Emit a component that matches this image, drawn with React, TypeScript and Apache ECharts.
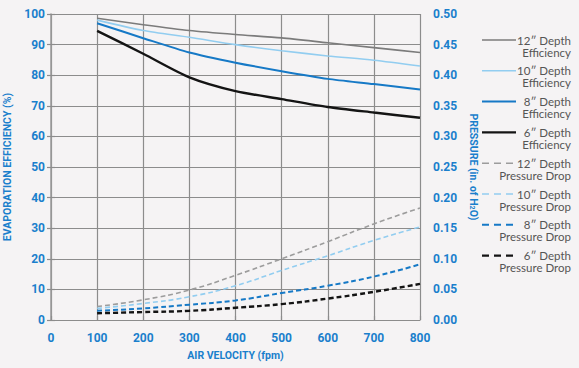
import React, { useEffect, useRef } from "react";
import * as echarts from "echarts";

const velocities = [100, 200, 300, 400, 500, 600, 700, 800];

const eff12 = [98.6, 96.5, 94.6, 93.3, 92.2, 90.6, 89.0, 87.4];
const eff10 = [98.0, 94.6, 92.4, 90.0, 88.0, 86.3, 84.9, 83.0];
const eff8 = [97.0, 92.1, 87.4, 84.1, 81.3, 78.8, 77.1, 75.3];
const eff6 = [94.5, 87.0, 79.3, 74.8, 72.2, 69.6, 67.8, 66.1];

const pd12 = [0.022, 0.033, 0.049, 0.073, 0.1, 0.128, 0.157, 0.183];
const pd10 = [0.019, 0.027, 0.038, 0.056, 0.081, 0.105, 0.13, 0.152];
const pd8 = [0.015, 0.019, 0.025, 0.032, 0.044, 0.056, 0.071, 0.091];
const pd6 = [0.011, 0.013, 0.015, 0.02, 0.026, 0.035, 0.046, 0.059];

const legendLabels = [
  ["12\u2033 Depth", "Efficiency"],
  ["10\u2033 Depth", "Efficiency"],
  ["8\u2033 Depth", "Efficiency"],
  ["6\u2033 Depth", "Efficiency"],
  ["12\u2033 Depth", "Pressure Drop"],
  ["10\u2033 Depth", "Pressure Drop"],
  ["8\u2033 Depth", "Pressure Drop"],
  ["6\u2033 Depth", "Pressure Drop"],
];

const colors = ["#7b7b7b", "#92cdf0", "#1679c6", "#141414", "#9c9c9c", "#92cdf0", "#1679c6", "#141414"];
const widths = [1.6, 1.6, 2, 2.4, 1.6, 1.6, 2, 2.4];

const BLUE = "#1a7fcc";
const GRID = "#8c8c8c";

export default function App() {
  const ref = useRef<HTMLDivElement>(null);
  useEffect(() => {
    if (!ref.current) return;
    const chart = echarts.init(ref.current, null, { renderer: "svg" });
    const effSeries = [eff12, eff10, eff8, eff6];
    const pdSeries = [pd12, pd10, pd8, pd6];
    const series: any[] = [];
    effSeries.forEach((d, i) => {
      series.push({
        type: "line",
        name: legendLabels[i].join(" "),
        yAxisIndex: 0,
        data: velocities.map((v, j) => [v, d[j]]),
        showSymbol: false,
        smooth: 0.25,
        lineStyle: { color: colors[i], width: widths[i] },
      });
    });
    pdSeries.forEach((d, i) => {
      series.push({
        type: "line",
        name: legendLabels[i + 4].join(" "),
        yAxisIndex: 1,
        data: velocities.map((v, j) => [v, d[j]]),
        showSymbol: false,
        smooth: true,
        lineStyle: { color: colors[i + 4], width: widths[i + 4], type: [5, 3] },
      });
    });

    const graphics: any[] = [];
    legendLabels.forEach((lab, i) => {
      const y = 40 + i * 30.8;
      const dashed = i >= 4;
      graphics.push({
        type: "line",
        shape: { x1: 482, y1: y, x2: 516, y2: y },
        style: {
          stroke: colors[i],
          lineWidth: widths[i],
          lineDash: dashed ? [7, 5] : null,
        },
      });
      graphics.push({
        type: "text",
        x: 571,
        y: y,
        style: {
          text: lab[0],
          align: "right",
          verticalAlign: "middle",
          fill: "#555",
          font: "11.5px Lato",
        },
      });
      graphics.push({
        type: "text",
        x: 571,
        y: y + 12,
        style: {
          text: lab[1],
          align: "right",
          verticalAlign: "middle",
          fill: "#555",
          font: "11.5px Lato",
        },
      });
    });

    chart.setOption({
      animation: false,
      backgroundColor: "#f5f3f4",
      grid: { left: 51, right: 159, top: 14, bottom: 48, outerBoundsMode: "none", containLabel: false },
      xAxis: [
        {
          type: "value",
          min: 0,
          max: 800,
          interval: 100,
          name: "AIR VELOCITY (fpm)",
          nameLocation: "middle",
          nameGap: 30,
          nameTextStyle: { color: BLUE, fontWeight: "bold", fontSize: 10.5, fontFamily: "Roboto" },
          axisLine: { show: true, lineStyle: { color: GRID, width: 1.2 } },
          axisTick: { show: false },
          axisLabel: { color: BLUE, fontWeight: "bold", fontSize: 12, fontFamily: "Roboto", margin: 12 },
          splitLine: { show: true, lineStyle: { color: GRID, width: 1.2 } },
        },
        {
          type: "value",
          position: "top",
          min: 0,
          max: 800,
          interval: 100,
          axisLine: { show: false },
          axisTick: { show: true, length: 4, lineStyle: { color: GRID, width: 1.2 } },
          axisLabel: { show: false },
          splitLine: { show: false },
        },
      ],
      yAxis: [
        {
          type: "value",
          min: 0,
          max: 100,
          interval: 10,
          name: "EVAPORATION EFFICIENCY (%)",
          nameLocation: "middle",
          nameGap: 37,
          nameTextStyle: { color: BLUE, fontWeight: "bold", fontSize: 10.5, fontFamily: "Roboto" },
          axisLine: { show: false },
          axisTick: { show: true, length: 4, lineStyle: { color: GRID, width: 1.2 } },
          axisLabel: { color: BLUE, fontWeight: "bold", fontSize: 12, fontFamily: "Roboto", margin: 6 },
          splitLine: { show: true, lineStyle: { color: GRID, width: 1.2 } },
        },
        {
          type: "value",
          min: 0,
          max: 0.5,
          interval: 0.05,
          position: "right",
          name: "PRESSURE (in. of H{sub|2}O)",
          nameLocation: "middle",
          nameRotate: -90,
          nameGap: 46,
          nameTextStyle: {
            color: BLUE,
            fontWeight: "bold",
            fontSize: 10.5,
            fontFamily: "Roboto",
            rich: {
              sub: { fontSize: 7, fontWeight: "bold", color: BLUE, fontFamily: "Roboto", verticalAlign: "bottom", padding: [4, 0, 0, 0] },
            },
          },
          axisLine: { show: true, lineStyle: { color: "#9a9a9a", width: 1.5 } },
          axisTick: { show: true, length: 4, lineStyle: { color: GRID, width: 1.2 } },
          axisLabel: {
            color: BLUE,
            fontWeight: "bold",
            fontSize: 12,
            fontFamily: "Roboto",
            margin: 13,
            formatter: (v: number) => v.toFixed(2),
          },
          splitLine: { show: false },
        },
      ],
      series,
      graphic: graphics,
    });
    return () => chart.dispose();
  }, []);
  return <div ref={ref} style={{ width: 579, height: 368, position: "absolute", left: 0, top: 0 }} />;
}
